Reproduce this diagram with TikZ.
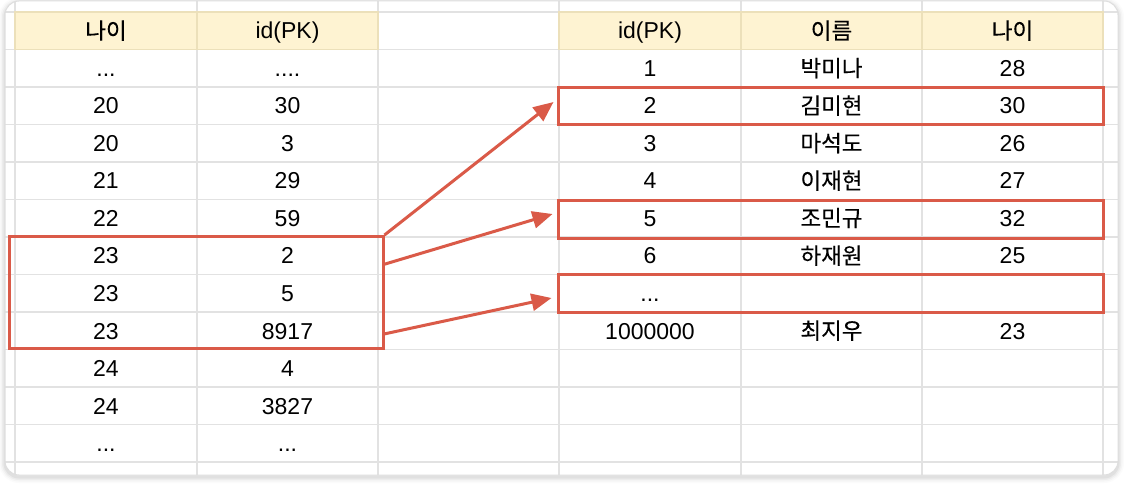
\documentclass[tikz,border=0pt]{standalone}
\usepackage{fontspec}
\setmainfont{Liberation Sans}
\newfontfamily\kr[FakeBold=0.2]{Noto Sans CJK KR}
\usetikzlibrary{arrows.meta,calc}
\definecolor{redb}{RGB}{218,90,72}
\definecolor{gridc}{RGB}{226,226,226}
\definecolor{headfill}{RGB}{254,243,210}
\definecolor{headline}{RGB}{236,224,186}
\definecolor{framec}{RGB}{222,222,222}
\newcommand{\mydotsthree}{...}
\newcommand{\mydotsfour}{....}
\begin{document}
\begin{tikzpicture}[x=1pt,y=-1pt,
  cell/.style={anchor=base, inner sep=0pt, font=\fontsize{23}{25}\selectfont},
  krcell/.style={anchor=base, inner sep=0pt, font=\kr\fontsize{22.5}{25}\selectfont},
  hl/.style={draw=redb, line width=3pt, inner sep=0pt},
  arr/.style={draw=redb, line width=3pt, -{Triangle[length=20pt,width=17pt]}},
  gridline/.style={draw=gridc, line width=1.5pt},
  headbox/.style={fill=headfill, draw=headline, line width=1.5pt}]
\useasboundingbox (0,0) rectangle (1124,486);
% soft shadow
\foreach \w/\o in {12/0.015,9/0.025,6/0.035,3/0.05}{
  \draw[line width=\w pt, black, opacity=\o, rounded corners=14pt] (5,3) rectangle (1118,477);
}
\fill[white, rounded corners=14pt] (5,1) rectangle (1118,475);
\begin{scope}
  \clip[rounded corners=14pt] (5,1) rectangle (1118,475);
  % horizontal grid lines
  \foreach \k in {0,...,12}{
    \draw[gridline] (0,12+37.5*\k) -- (1124,12+37.5*\k);
  }
  % vertical grid lines
  \foreach \xx in {15,197,378,559,741,922,1103}{
    \draw[gridline] (\xx,0) -- (\xx,486);
  }
  % header cells
  \draw[headbox] (15,12) rectangle (197,49.5);
  \draw[headbox] (197,12) rectangle (378,49.5);
  \draw[headbox] (559,12) rectangle (741,49.5);
  \draw[headbox] (741,12) rectangle (922,49.5);
  \draw[headbox] (922,12) rectangle (1103,49.5);
\end{scope}
\draw[framec, line width=1pt, rounded corners=14pt] (5,1) rectangle (1118,475);

% headers
\node[krcell] (lh1) at (106,39) {나이};
\node[cell] (lh2) at (287.5,39) {id(PK)};
\node[cell] (rh1) at (650,39) {id(PK)};
\node[krcell] (rh2) at (831.5,39) {이름};
\node[krcell] (rh3) at (1012.5,39) {나이};

% left table
\foreach \a/\b [count=\i] in {\mydotsthree/\mydotsfour,20/30,20/3,21/29,22/59,23/2,23/5,23/8917,24/4,24/3827,\mydotsthree/\mydotsthree}{
  \node[cell] (la\i) at (106,39+37.5*\i) {\a};
  \node[cell] (lb\i) at (287.5,39+37.5*\i) {\b};
}

% right table
\foreach \a/\b/\c [count=\i] in {1/박미나/28,2/김미현/30,3/마석도/26,4/이재현/27,5/조민규/32,6/하재원/25}{
  \node[cell] (ra\i) at (650,39+37.5*\i) {\a};
  \node[krcell] (rb\i) at (831.5,39+37.5*\i) {\b};
  \node[cell] (rc\i) at (1012.5,39+37.5*\i) {\c};
}
\node[cell] (ra7) at (650,39+37.5*7) {\mydotsthree};
\node[cell] (ra8) at (650,39+37.5*8) {1000000};
\node[krcell] (rb8) at (831.5,39+37.5*8) {최지우};
\node[cell] (rc8) at (1012.5,39+37.5*8) {23};

% highlight boxes
\node[hl, minimum width=373.5pt, minimum height=112pt] (lbox) at (196.25,292.5) {};
\node[hl, minimum width=545pt, minimum height=37pt] (rbox1) at (830.5,106) {};
\node[hl, minimum width=545pt, minimum height=38pt] (rbox2) at (830.5,219.5) {};
\node[hl, minimum width=545pt, minimum height=38pt] (rbox3) at (830.5,293.5) {};

% arrows
\draw[arr] (lbox.north east) -- ($(rbox1.west)+(-3,-4)$);
\draw[arr] ($(lbox.north east)!0.254!(lbox.south east)$) -- ($(rbox2.west)+(-4,-5.5)$);
\draw[arr] ($(lbox.north east)!0.86!(lbox.south east)$) -- ($(rbox3.west)+(-5,4.5)$);
\end{tikzpicture}
\end{document}
